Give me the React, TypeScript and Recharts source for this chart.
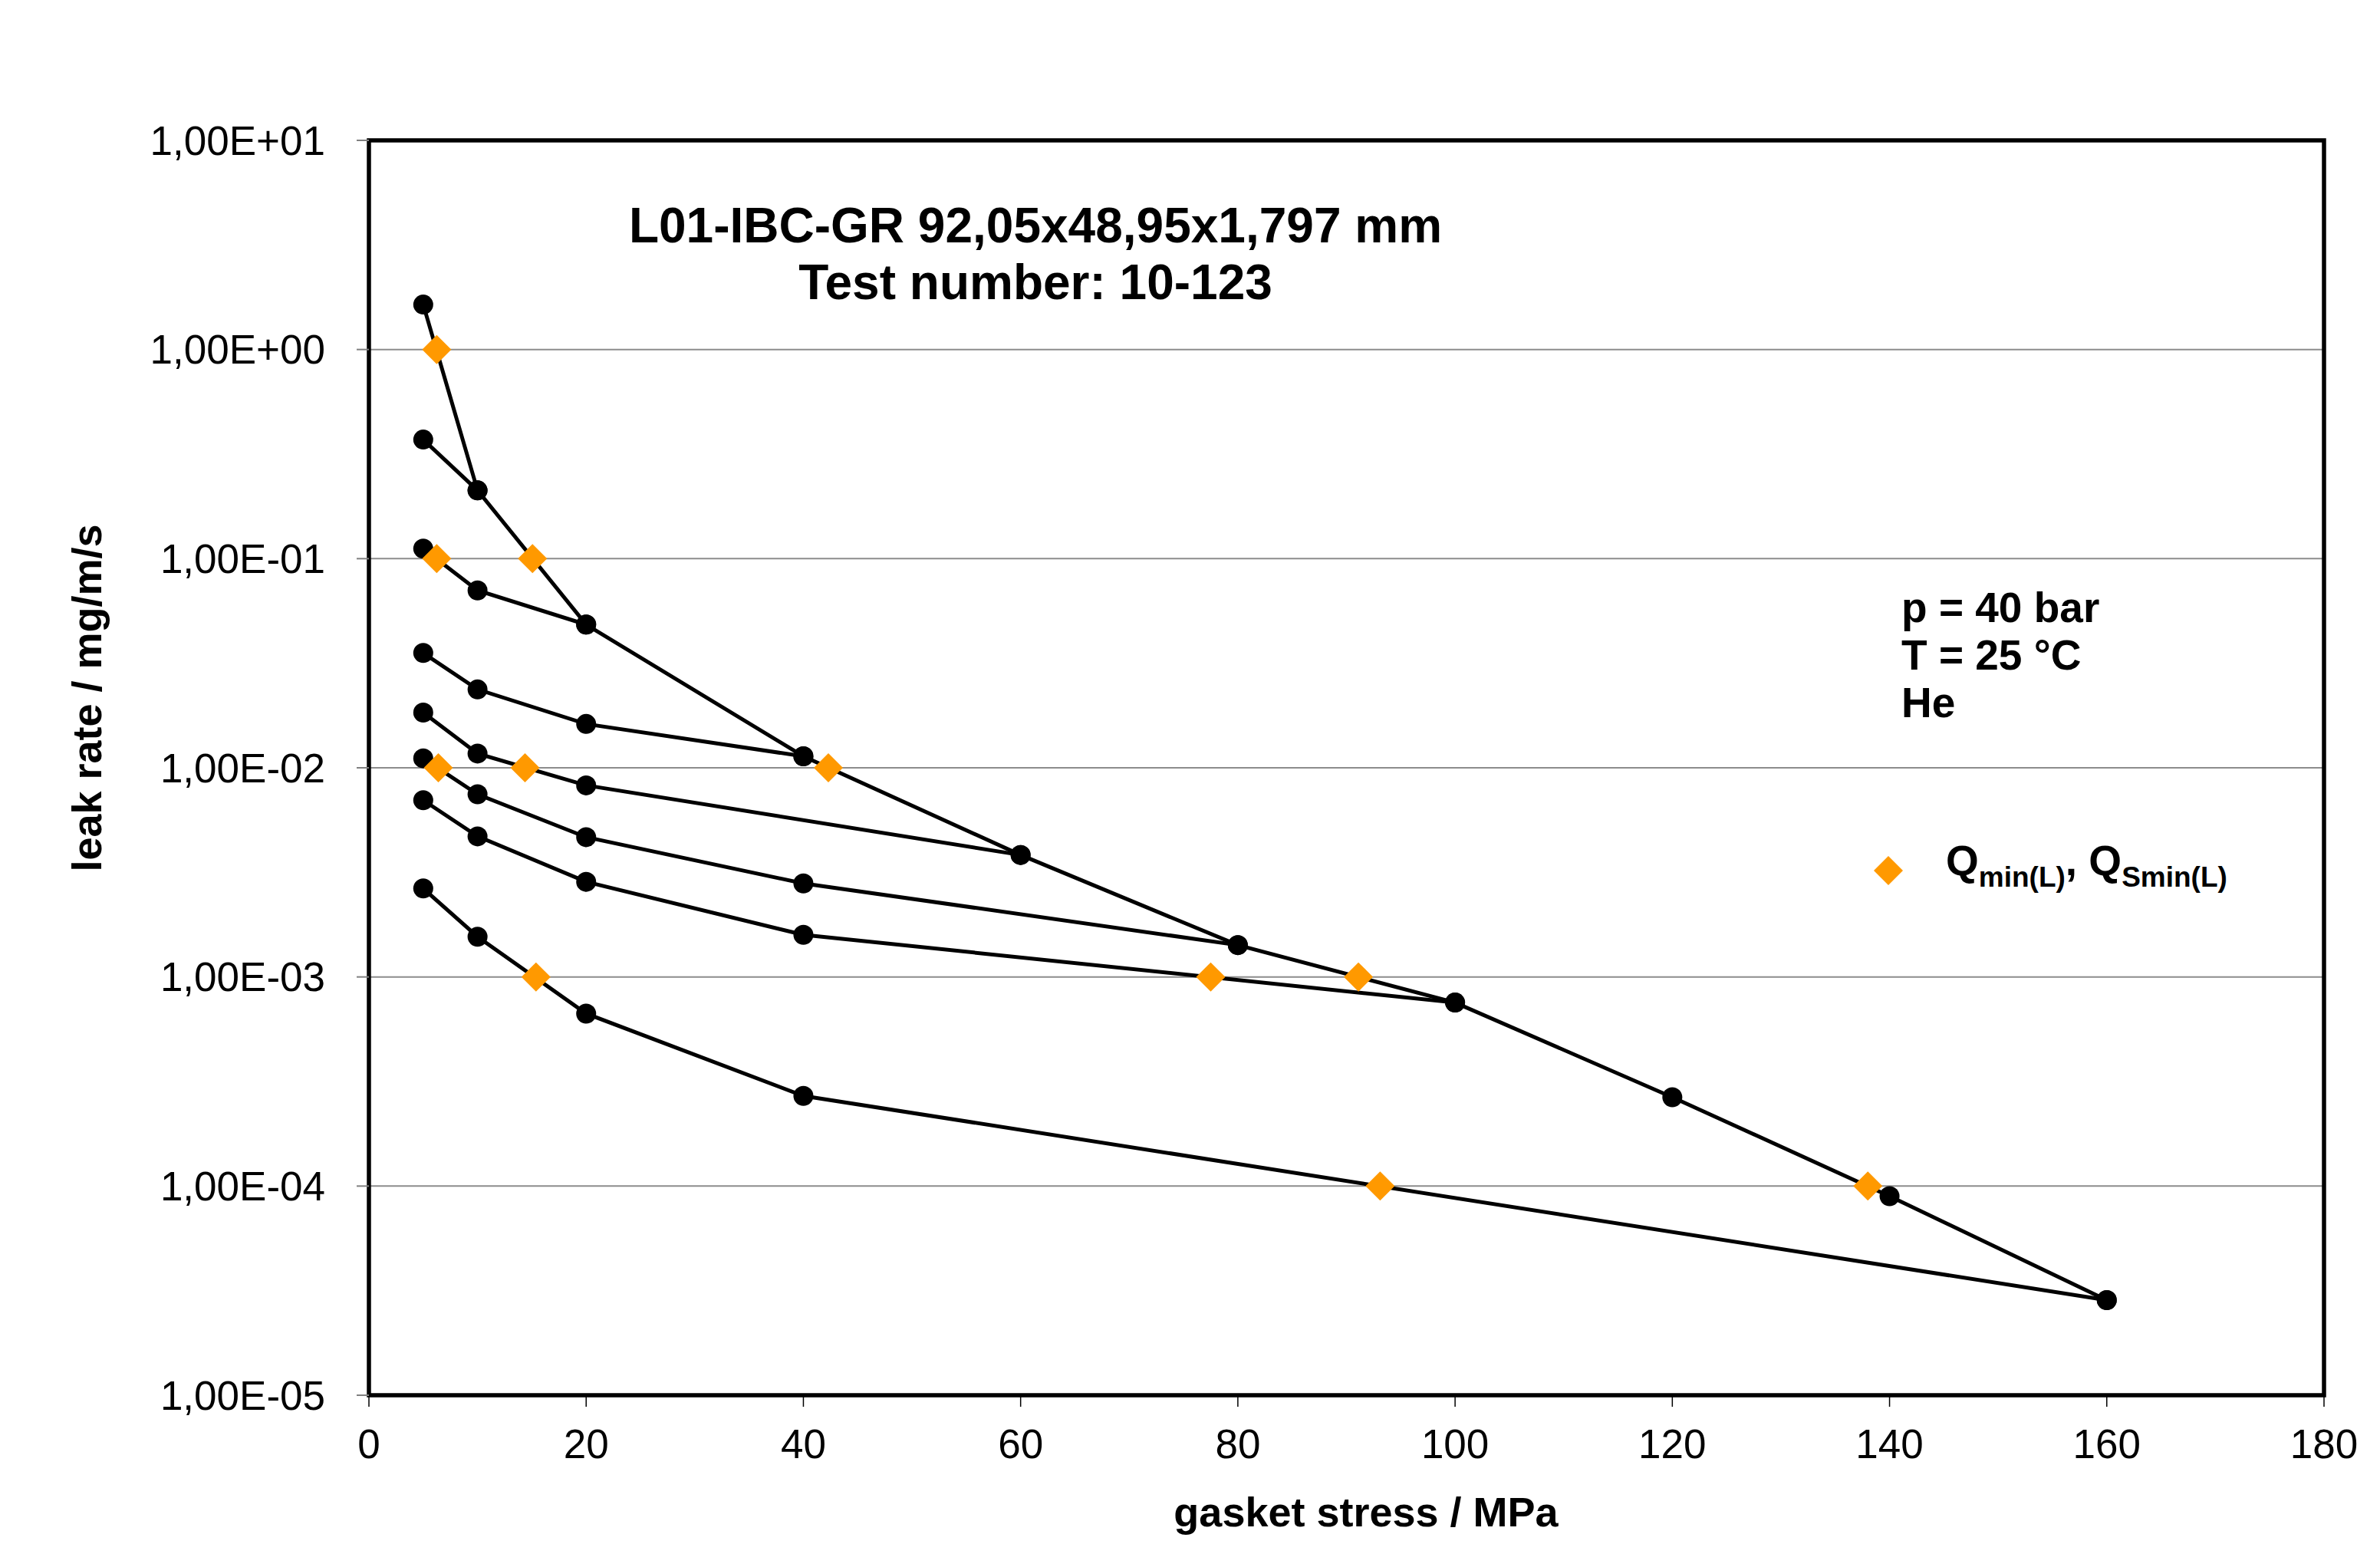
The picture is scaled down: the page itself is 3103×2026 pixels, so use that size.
import {
  ComposedChart,
  Line,
  Scatter,
  XAxis,
  YAxis,
  CartesianGrid,
  ReferenceArea,
} from "recharts";

// ===== data =====
const X_TICKS = [0, 20, 40, 60, 80, 100, 120, 140, 160, 180];
const Y_TICKS = [1e-5, 1e-4, 1e-3, 1e-2, 1e-1, 1, 10];

// loading curve
const LOAD_X = [5, 10, 20, 40, 60, 80, 100, 120, 140, 160];
const LOAD_Y = [
  1.64, 0.212, 0.0484, 0.01135, 0.00383, 0.00142, 0.000754, 0.000266, 0.0000895,
  0.0000285,
];

// unloading steps, from the peak stress back down to 5 MPa
const UNLOAD_10: [number, number][] = [[10, 0.212], [5, 0.371]];
const UNLOAD_20: [number, number][] = [[20, 0.0484], [10, 0.0705], [5, 0.1117]];
const UNLOAD_40: [number, number][] = [[40, 0.01135], [20, 0.0162], [10, 0.0237], [5, 0.0354]];
const UNLOAD_60: [number, number][] = [[60, 0.00383], [20, 0.00824], [10, 0.0117], [5, 0.01837]];
const UNLOAD_80: [number, number][] = [[80, 0.00142], [40, 0.0028], [20, 0.00466], [10, 0.00747], [5, 0.0111]];
const UNLOAD_100: [number, number][] = [[100, 0.000754], [40, 0.00159], [20, 0.00285], [10, 0.0047], [5, 0.007]];
const UNLOAD_160: [number, number][] = [[160, 0.0000285], [40, 0.00027], [20, 0.000668], [10, 0.001557], [5, 0.00265]];

// Qmin(L) / QSmin(L) markers
const Q_X = [6.24, 15.06, 6.24, 42.3, 14.37, 6.39, 15.38, 77.5, 91.1, 93.1, 138];
const Q_Y = [1, 0.1, 0.1, 0.01, 0.01, 0.01, 0.001, 0.001, 0.001, 0.0001, 0.0001];

// ===== helpers =====
const W = 3103;
const H = 2026;
const FONT = '"Liberation Sans", Arial, Helvetica, sans-serif';
const ORANGE = "#FF9900";

const fmtSci = (v: number) => {
  const [m, e] = Number(v).toExponential(2).split("e");
  const n = parseInt(e, 10);
  return `${m.replace(".", ",")}E${n < 0 ? "-" : "+"}${String(Math.abs(n)).padStart(2, "0")}`;
};

const toPoints = (pairs: [number, number][]) => pairs.map(([x, y]) => ({ x, y }));

const loading = LOAD_X.map((x, i) => ({ x, y: LOAD_Y[i] }));
const unloads = [UNLOAD_10, UNLOAD_20, UNLOAD_40, UNLOAD_60, UNLOAD_80, UNLOAD_100, UNLOAD_160].map(toPoints);
const qPoints = Q_X.map((x, i) => ({ x, y: Q_Y[i] }));

const Diamond = (props: any) => {
  const { cx, cy } = props;
  const s = 19;
  return (
    <polygon
      points={`${cx},${cy - s} ${cx + s},${cy} ${cx},${cy + s} ${cx - s},${cy}`}
      fill={ORANGE}
    />
  );
};

const DOT = { r: 13, fill: "#000", stroke: "#000", strokeWidth: 0 };

export default function App() {
  return (
    <div style={{ position: "absolute", left: 0, top: 0, width: W, height: H, background: "#fff" }}>
      <ComposedChart
        width={W}
        height={H}
        margin={{ top: 183, right: 73, bottom: 57, left: 81 }}
      >
        <CartesianGrid vertical={false} stroke="#8c8c8c" strokeWidth={2} />
        <XAxis
          dataKey="x"
          type="number"
          domain={[0, 180]}
          ticks={X_TICKS}
          interval={0}
          allowDataOverflow
          height={150}
          tickSize={15}
          tickMargin={29}
          axisLine={false}
          tickLine={{ stroke: "#000", strokeWidth: 1.5 }}
          tick={{ fill: "#000", fontSize: 53, fontFamily: FONT }}
        />
        <YAxis
          type="number"
          scale="log"
          domain={[1e-5, 10]}
          ticks={Y_TICKS}
          interval={0}
          allowDataOverflow
          width={400}
          tickSize={16}
          tickMargin={41}
          tickFormatter={fmtSci}
          axisLine={false}
          tickLine={{ stroke: "#808080", strokeWidth: 2 }}
          tick={{ fill: "#000", fontSize: 53, fontFamily: FONT }}
        />
        <ReferenceArea
          x1={0}
          x2={180}
          y1={1e-5}
          y2={10}
          fill="none"
          fillOpacity={0}
          stroke="#000"
          strokeWidth={5.5}
          ifOverflow="visible"
        />

        <Line
          data={loading}
          dataKey="y"
          type="linear"
          stroke="#000"
          strokeWidth={5}
          dot={DOT}
          activeDot={false}
          isAnimationActive={false}
        />
        {unloads.map((pts, i) => (
          <Line
            key={i}
            data={pts}
            dataKey="y"
            type="linear"
            stroke="#000"
            strokeWidth={5}
            dot={DOT}
            activeDot={false}
            isAnimationActive={false}
          />
        ))}
        <Scatter data={qPoints} dataKey="y" shape={Diamond} isAnimationActive={false} />
      </ComposedChart>

      <svg
        width={W}
        height={H}
        style={{ position: "absolute", left: 0, top: 0, pointerEvents: "none" }}
        fontFamily={FONT}
        fontWeight="bold"
        fill="#000"
      >
        <text x={1350} y={316} fontSize={64} textAnchor="middle">
          L01-IBC-GR 92,05x48,95x1,797 mm
        </text>
        <text x={1350} y={390} fontSize={64} textAnchor="middle">
          Test number: 10-123
        </text>

        <text x={2479} y={811} fontSize={55}>p = 40 bar</text>
        <text x={2479} y={873} fontSize={55}>T = 25 °C</text>
        <text x={2479} y={935} fontSize={55}>He</text>

        <polygon points="2462,1116 2481,1135 2462,1154 2443,1135" fill={ORANGE} />
        <text x={2537} y={1141} fontSize={55}>
          Q<tspan fontSize={37} dy={15}>min(L)</tspan>
          <tspan dy={-15}>, Q</tspan>
          <tspan fontSize={37} dy={15}>Smin(L)</tspan>
        </text>

        <text x={1781} y={1990} fontSize={54} textAnchor="middle">
          gasket stress / MPa
        </text>
        <text transform="translate(132,910) rotate(-90)" fontSize={54} textAnchor="middle">
          leak rate / mg/m/s
        </text>
      </svg>
    </div>
  );
}
